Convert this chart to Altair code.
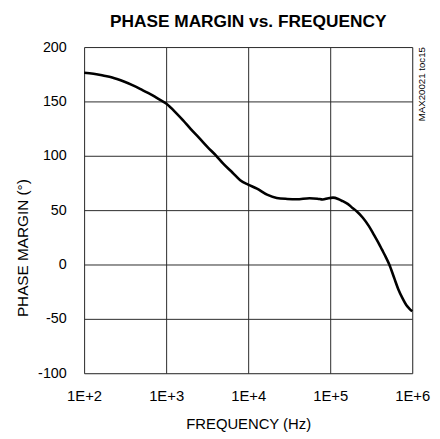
import altair as alt
import pandas as pd

# Frequency (Hz) and phase margin (degrees)
freq_hz = [100, 130, 170, 220, 300, 400, 520, 650, 760, 1000, 1300, 1600,
           2000, 2540, 3200, 4060, 5000, 6460, 8000, 10000, 12800, 17000,
           22300, 30000, 39000, 56000, 70000, 81000, 95000, 108000, 125000,
           142000, 165000, 187000, 210000, 250000, 295000, 340000, 389000,
           428000, 475000, 525000, 600000, 676000, 760000, 850000, 920000,
           1000000]
phase_deg = [176.3, 175.5, 173.8, 172, 168.5, 164.5, 160.2, 156.5, 153.5, 148,
             140, 132.8, 124.5, 116.2, 108, 100.2, 92.5, 84.4, 77.5, 73.5,
             69.7, 64.2, 61.2, 60.3, 60, 61, 60.5, 59.7, 61, 61.5, 60.3, 58.2,
             55.5, 52, 49, 43, 35.5, 27.5, 19.7, 13.6, 7, 0, -12, -22.7,
             -31, -37.5, -40.5, -43]

x_ticks = [100, 1000, 10000, 100000, 1000000]
y_ticks = [-100, -50, 0, 50, 100, 150, 200]

chart_title = "PHASE MARGIN vs. FREQUENCY"
note_text = "MAX20021 toc15"

df = pd.DataFrame({"f": freq_hz, "pm": phase_deg})

FONT = "Liberation Sans, Arial"

line = alt.Chart(df).mark_line(color="black", strokeWidth=2.6, interpolate="monotone").encode(
    x=alt.X("f:Q",
            scale=alt.Scale(type="log", domain=[100, 1000000], nice=False),
            axis=alt.Axis(values=x_ticks, title="FREQUENCY (Hz)",
                          labelExpr="'1E+' + format(round(log(datum.value)/LN10), 'd')",
                          ticks=False, tickSize=0, domain=False,
                          grid=True, gridColor="#2a2a2a", gridWidth=1,
                          labelFont=FONT, labelFontSize=15, labelColor="black",
                          labelBaseline="alphabetic", labelPadding=28,
                          labelFlush=False,
                          titleFont=FONT, titleFontSize=15, titleFontWeight="normal",
                          titleColor="black", titleBaseline="alphabetic",
                          titleX=166, titleY=56)),
    y=alt.Y("pm:Q",
            scale=alt.Scale(domain=[-100, 200], nice=False),
            axis=alt.Axis(values=y_ticks, title="PHASE MARGIN (°)",
                          labelExpr="datum.value + ''",
                          ticks=False, tickSize=0, domain=False,
                          grid=True, gridColor="#2a2a2a", gridWidth=1,
                          labelFont=FONT, labelFontSize=14.5, labelColor="black",
                          labelBaseline="middle", labelPadding=18,
                          labelFlush=False,
                          titleFont=FONT, titleFontSize=15.5, titleFontWeight="normal",
                          titleColor="black", titleBaseline="alphabetic",
                          titleX=-57, titleY=203)),
)

note = alt.Chart(pd.DataFrame({"t": [note_text]})).mark_text(
    angle=270, align="right", baseline="alphabetic", font=FONT, fontSize=9.8,
    color="black"
).encode(x=alt.value(344.5), y=alt.value(0), text="t:N")

title = alt.Chart(pd.DataFrame({"t": [chart_title]})).mark_text(
    align="center", baseline="alphabetic", font=FONT, fontSize=17.5,
    fontWeight="bold", color="black"
).encode(x=alt.value(166), y=alt.value(-20), text="t:N")

chart = alt.layer(line, note, title).properties(
    width=332, height=330,
    padding={"left": 77, "top": 37, "right": 20, "bottom": 60},
    autosize=alt.AutoSizeParams(type="none"),
).configure_view(stroke="black", strokeWidth=2.5).configure(background="white")

chart.save("out.html", embed_options={"renderer": "svg", "actions": False})
